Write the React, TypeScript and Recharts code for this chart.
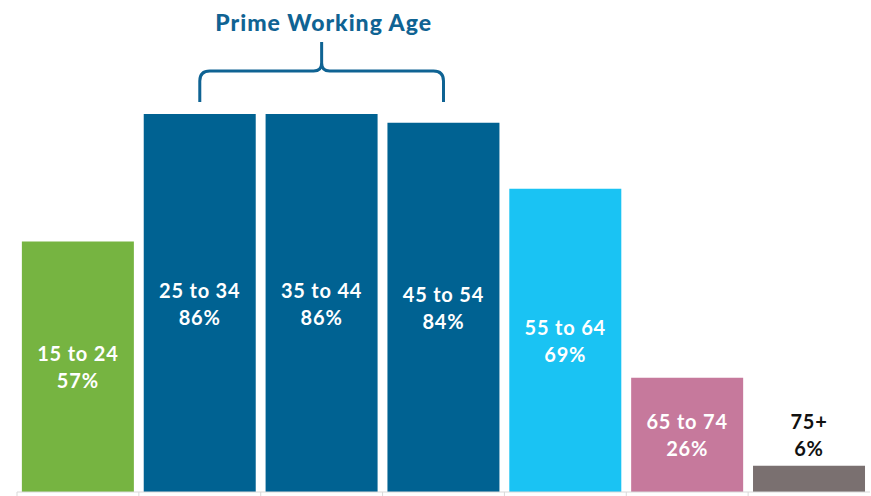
import { Bar, BarChart, Cell, Customized, LabelList, XAxis, YAxis } from "recharts";

const ageGroups = ["15 to 24", "25 to 34", "35 to 44", "45 to 54", "55 to 64", "65 to 74", "75+"];
const participation = [57, 86, 86, 84, 69, 26, 6];
const barColors = ["#76b441", "#006292", "#006292", "#006292", "#1ac3f3", "#c6799c", "#7a7070"];

const W = 871;
const H = 496;
const margin = { top: 52.5, right: 1, bottom: 0, left: 17 };
const band = (W - margin.left - margin.right) / ageGroups.length;
const primeFrom = 1;
const primeTo = 3;
const titleColor = "#0f6393";
const font = "Lato, 'DejaVu Sans', sans-serif";

const data = ageGroups.map((group, i) => ({ group, value: participation[i] }));

function BoundaryTick(props: any) {
  const { x, y } = props;
  return <line x1={x - band / 2} x2={x - band / 2} y1={y} y2={y + 4} stroke="#d9d9d9" />;
}

function BarLabel(props: any) {
  const { x, y, width, height, index } = props;
  const last = index === ageGroups.length - 1;
  const cx = x + width / 2;
  const cy = last ? y - 31.5 : y + height / 2;
  const fill = last ? "#111" : "#fff";
  return (
    <g fontFamily={font} fontWeight={700} fontSize={20} fill={fill} textAnchor="middle" letterSpacing={0.8}>
      <text x={cx} y={cy - 13.5} dominantBaseline="central">
        {ageGroups[index]}
      </text>
      <text x={cx} y={cy + 13.5} dominantBaseline="central">
        {participation[index]}%
      </text>
    </g>
  );
}

function PrimeBrace() {
  const x1 = margin.left + band * (primeFrom + 0.5);
  const x2 = margin.left + band * (primeTo + 0.5);
  const xm = (x1 + x2) / 2;
  const hy = 71;
  const d = [
    `M ${x1} 102 V ${hy + 10} Q ${x1} ${hy} ${x1 + 10} ${hy} H ${xm - 8} Q ${xm} ${hy} ${xm} ${hy - 8} V 42`,
    `M ${xm} ${hy - 8} Q ${xm} ${hy} ${xm + 8} ${hy} H ${x2 - 10} Q ${x2} ${hy} ${x2} ${hy + 10} V 102`,
  ].join(" ");
  return (
    <g>
      <text
        x={xm + 2}
        y={22}
        textAnchor="middle"
        dominantBaseline="central"
        fontFamily={font}
        fontWeight={900}
        fontSize={23}
        letterSpacing={1}
        fill={titleColor}
      >
        Prime Working Age
      </text>
      <path d={d} fill="none" stroke={titleColor} strokeWidth={3} />
    </g>
  );
}

export default function App() {
  return (
    <div style={{ position: "absolute", left: 0, top: 0, background: "#fff" }}>
      <BarChart width={W} height={H} data={data} margin={margin} barCategoryGap="4%">
        <XAxis
          dataKey="group"
          height={4}
          tickSize={0}
          tickMargin={0}
          tickLine={false}
          stroke="#d9d9d9"
          tick={<BoundaryTick />}
          interval={0}
        />
        <YAxis hide domain={[0, 100]} />
        <Bar dataKey="value" isAnimationActive={false}>
          {data.map((d, i) => (
            <Cell key={d.group} fill={barColors[i]} />
          ))}
          <LabelList dataKey="value" content={<BarLabel />} />
        </Bar>
        <Customized component={<PrimeBrace />} />
      </BarChart>
    </div>
  );
}
